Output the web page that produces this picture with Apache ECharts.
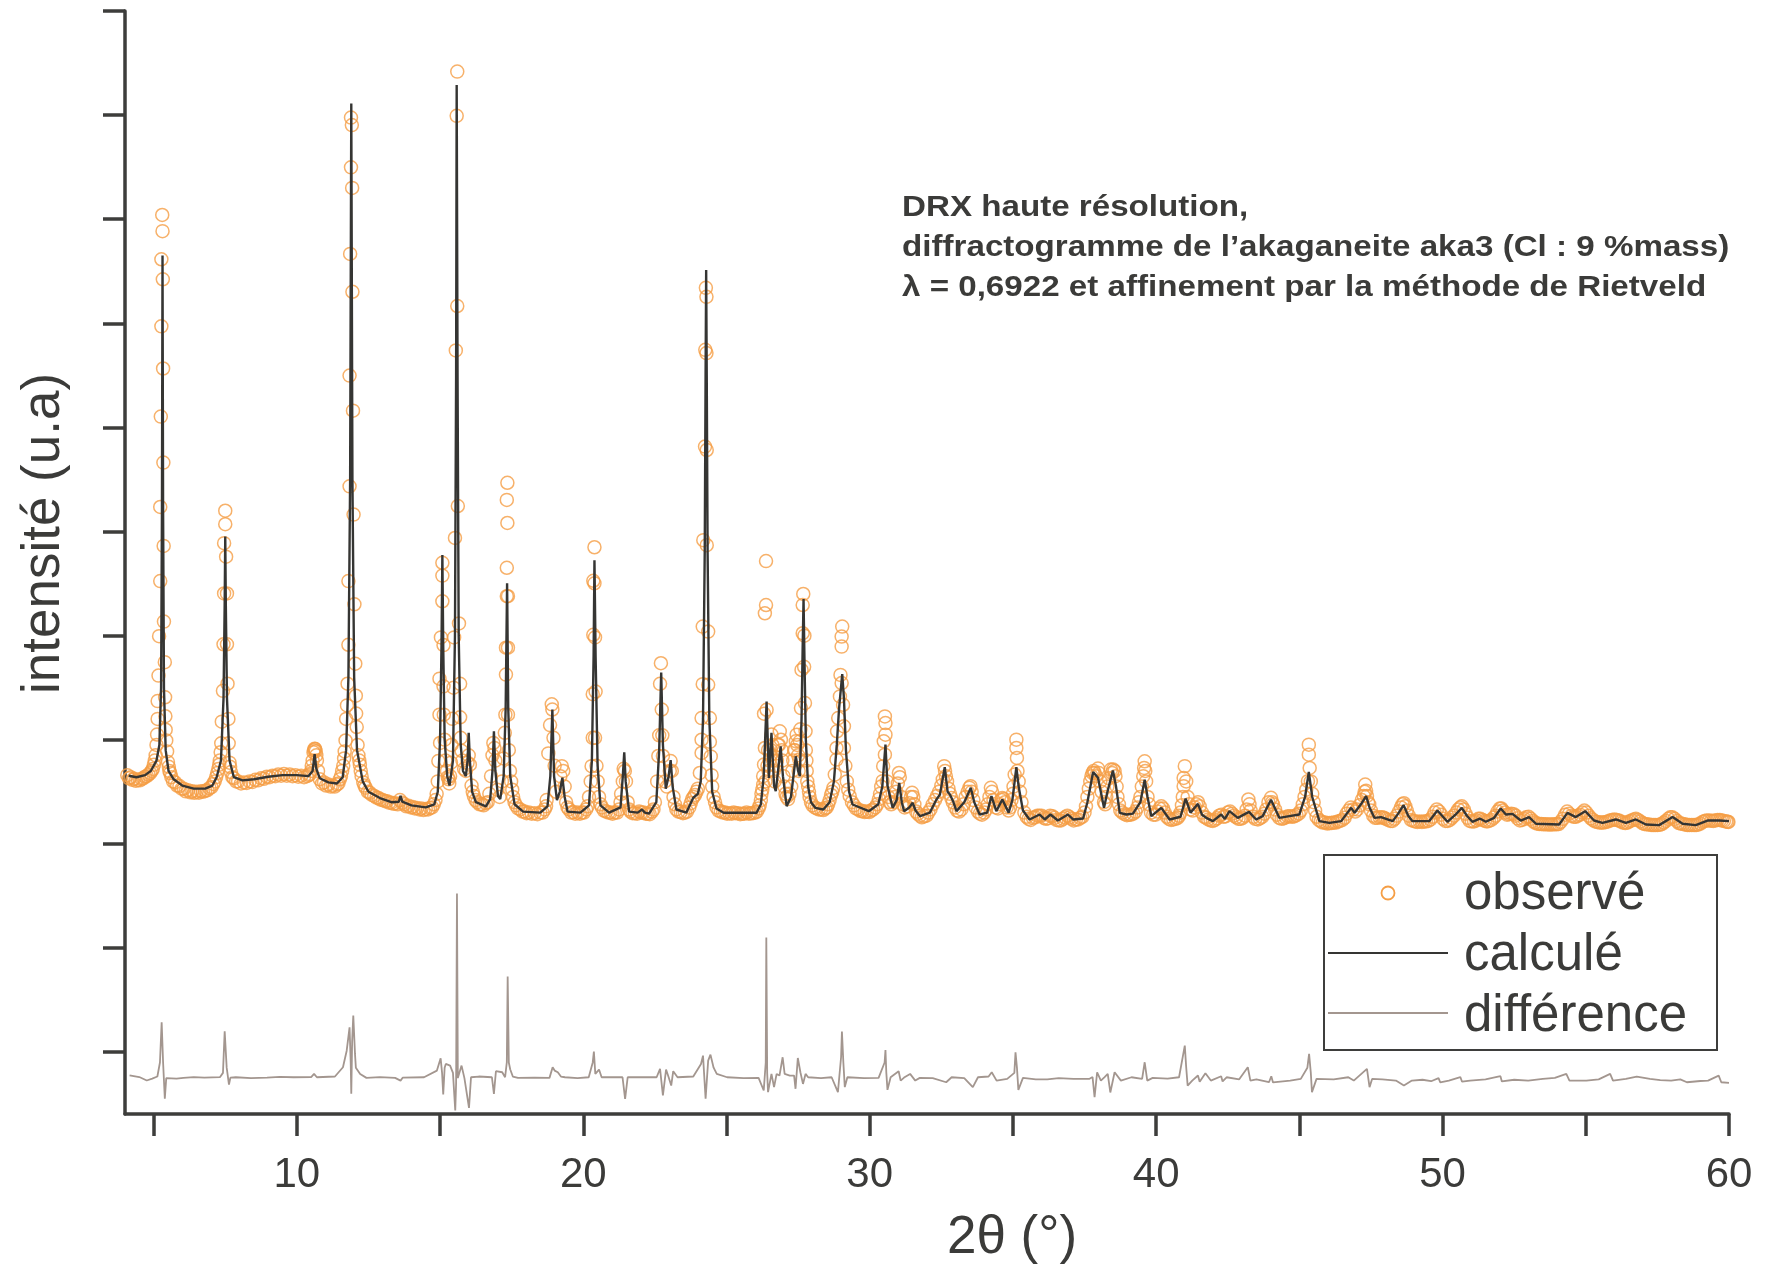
<!DOCTYPE html>
<html>
<head>
<meta charset="utf-8">
<script src="https://cdn.jsdelivr.net/npm/echarts@6/dist/echarts.min.js"></script>
<style>
html,body{margin:0;padding:0;background:#fff;}
#chart{width:1769px;height:1270px;}
</style>
</head>
<body>
<div id="chart"></div>
<script>
// ---- tick values ----
const xTickValues = [5,10,15,20,25,30,35,40,45,50,55,60];
const xLabelValues = [10,20,30,40,50,60];
const yTickValues = [0,1000,2000,3000,4000,5000,6000,7000,8000,9000,10000];

// ---- calculated profile [2theta, intensity] ----
const calcPoints = [
[4.13,2654],[4.4,2640],[4.7,2660],[4.9,2700],[5.1,2800],[5.2,2950],[5.26,3500],[5.29,5200],[5.31,7651],[5.33,5200],[5.36,3500],[5.42,2900],[5.52,2700],[5.7,2620],[6.0,2560],[6.4,2530],[6.8,2530],[7.05,2560],[7.2,2640],[7.35,2800],[7.44,3400],[7.48,4300],[7.50,4951],[7.52,4300],[7.56,3400],[7.65,2800],[7.8,2640],[8.1,2610],[8.5,2620],[9.0,2645],[9.5,2660],[10.0,2660],[10.4,2650],[10.55,2700],[10.62,2862],[10.68,2720],[10.8,2630],[11.1,2590],[11.4,2580],[11.6,2640],[11.72,2900],[11.8,3600],[11.86,5500],[11.9,9111],[11.94,5500],[12.0,3600],[12.1,2900],[12.3,2600],[12.5,2500],[12.9,2440],[13.3,2400],[13.56,2405],[13.62,2460],[13.68,2405],[14.0,2370],[14.5,2350],[14.8,2380],[14.92,2500],[15.0,3000],[15.05,3900],[15.08,4775],[15.11,3900],[15.16,3000],[15.25,2650],[15.33,2560],[15.45,2800],[15.52,4000],[15.56,6500],[15.58,9289],[15.61,6500],[15.65,4000],[15.72,2950],[15.8,2700],[15.9,2650],[15.96,2800],[16.0,3067],[16.04,2800],[16.12,2500],[16.25,2400],[16.6,2360],[16.75,2430],[16.83,2700],[16.88,3082],[16.93,2700],[17.02,2460],[17.1,2430],[17.22,2650],[17.29,3300],[17.34,4503],[17.38,3300],[17.45,2650],[17.6,2380],[17.9,2310],[18.5,2300],[18.75,2360],[18.85,2650],[18.92,3290],[18.98,2650],[19.08,2420],[19.18,2500],[19.27,2636],[19.35,2450],[19.45,2310],[19.9,2300],[20.2,2370],[20.3,2800],[20.36,3800],[20.39,4725],[20.43,3800],[20.5,2750],[20.6,2370],[20.9,2300],[21.3,2350],[21.38,2650],[21.43,2879],[21.48,2600],[21.6,2310],[21.9,2300],[22.05,2330],[22.15,2300],[22.3,2290],[22.55,2400],[22.65,2900],[22.72,3646],[22.78,2950],[22.88,2530],[22.98,2650],[23.05,2805],[23.12,2550],[23.25,2330],[23.6,2300],[23.84,2443],[24.0,2480],[24.1,2600],[24.18,3200],[24.24,4800],[24.27,6500],[24.29,7513],[24.31,6500],[24.34,4800],[24.4,3200],[24.5,2500],[24.65,2340],[24.9,2298],[26.05,2298],[26.2,2380],[26.3,2650],[26.4,3368],[26.48,2633],[26.57,3066],[26.66,2560],[26.72,2506],[26.8,2700],[26.89,2937],[26.97,2650],[27.1,2362],[27.25,2450],[27.42,2841],[27.5,2700],[27.56,2650],[27.62,3200],[27.66,3900],[27.69,4352],[27.72,3800],[27.77,3000],[27.85,2550],[27.95,2400],[28.1,2346],[28.38,2330],[28.6,2400],[28.75,2600],[28.85,2950],[28.93,3300],[29.04,3630],[29.1,3400],[29.17,2900],[29.28,2500],[29.4,2378],[29.97,2314],[30.3,2380],[30.44,2550],[30.55,2953],[30.62,2560],[30.8,2346],[30.94,2420],[31.03,2585],[31.12,2400],[31.2,2314],[31.38,2350],[31.5,2394],[31.6,2320],[31.76,2266],[32.1,2300],[32.33,2426],[32.45,2473],[32.62,2736],[32.72,2500],[32.8,2473],[32.91,2410],[33.03,2314],[33.3,2400],[33.53,2538],[33.65,2400],[33.84,2282],[34.1,2300],[34.25,2458],[34.42,2314],[34.63,2426],[34.85,2300],[34.98,2420],[35.06,2600],[35.12,2736],[35.2,2550],[35.35,2320],[35.58,2234],[35.93,2282],[36.11,2234],[36.31,2282],[36.57,2224],[36.92,2282],[37.1,2234],[37.45,2243],[37.6,2400],[37.8,2691],[37.97,2634],[38.18,2346],[38.3,2500],[38.49,2704],[38.6,2550],[38.73,2298],[38.96,2282],[39.19,2290],[39.45,2400],[39.6,2617],[39.7,2450],[39.83,2266],[40.18,2346],[40.47,2234],[40.85,2260],[41.03,2435],[41.2,2300],[41.46,2384],[41.6,2280],[41.75,2250],[41.98,2218],[42.27,2282],[42.4,2240],[42.56,2314],[42.85,2250],[43.24,2307],[43.49,2234],[43.72,2266],[44.01,2423],[44.3,2250],[44.65,2266],[45.0,2282],[45.2,2450],[45.33,2691],[45.45,2450],[45.7,2218],[46.05,2202],[46.46,2218],[46.81,2346],[46.93,2298],[47.15,2380],[47.33,2458],[47.45,2350],[47.62,2250],[47.85,2257],[48.26,2218],[48.45,2290],[48.64,2372],[48.8,2270],[48.95,2218],[49.53,2218],[49.82,2320],[50.17,2212],[50.45,2280],[50.67,2346],[50.85,2270],[51.04,2212],[51.3,2243],[51.51,2212],[51.8,2250],[52.03,2339],[52.21,2282],[52.44,2288],[52.73,2224],[53.02,2257],[53.26,2193],[54.07,2186],[54.36,2298],[54.65,2257],[54.98,2314],[55.29,2224],[55.58,2202],[56.05,2234],[56.4,2202],[56.75,2234],[57.1,2186],[57.56,2180],[58.03,2257],[58.38,2193],[58.84,2180],[59.25,2224],[59.66,2224],[60.0,2218]
];

// ---- observed points, peaks and band [2theta, intensity] ----
const obsPoints = [
[4.08,2660],[4.2,2640],[4.32,2625],[4.45,2615],[4.58,2625],[4.7,2645],[4.82,2665],[4.93,2700],[5.01,2760],[5.07,2850],[5.1,2950],[5.12,3050],[5.14,3200],[5.14,3371],[5.17,3616],[5.19,3995],[5.23,4524],[5.23,5236],[5.25,6104],[5.27,6971],[5.27,7615],[5.30,8041],[5.31,7885],[5.32,7423],[5.33,6566],[5.34,5662],[5.35,4862],[5.36,4135],[5.39,3745],[5.40,3408],[5.41,3226],[5.42,3096],[5.44,2993],[5.47,2888],[5.5,2785],[5.55,2700],[5.62,2640],[5.75,2590],[5.9,2555],[6.05,2530],[6.2,2515],[6.35,2505],[6.5,2500],[6.65,2505],[6.8,2510],[6.95,2535],[7.08,2575],[7.18,2640],[7.26,2720],[7.31,2800],[7.34,2880],[7.36,2966],[7.38,3174],[7.42,3470],[7.44,3917],[7.46,4405],[7.46,4888],[7.50,5070],[7.50,5200],[7.53,4758],[7.56,4405],[7.56,3917],[7.58,3538],[7.61,3200],[7.62,2966],[7.65,2780],[7.7,2690],[7.8,2630],[7.95,2600],[8.15,2590],[8.35,2600],[8.55,2615],[8.75,2630],[8.95,2645],[9.15,2655],[9.35,2665],[9.55,2670],[9.75,2665],[9.95,2660],[10.15,2655],[10.35,2650],[10.5,2700],[10.55,2800],[10.58,2880],[10.62,2914],[10.66,2890],[10.7,2800],[10.8,2620],[10.95,2590],[11.1,2570],[11.25,2560],[11.4,2570],[11.5,2620],[11.58,2700],[11.62,2750],[11.67,2888],[11.70,2993],[11.72,3200],[11.75,3330],[11.77,3538],[11.80,3912],[11.80,4524],[11.84,5434],[11.84,6498],[11.86,7667],[11.89,8498],[11.89,8976],[11.92,8904],[11.93,8301],[11.94,7303],[11.96,6161],[11.98,5163],[12.01,4301],[12.04,3730],[12.06,3423],[12.07,3252],[12.09,3122],[12.12,2950],[12.15,2850],[12.2,2760],[12.26,2650],[12.32,2590],[12.4,2540],[12.55,2490],[12.7,2460],[12.85,2440],[13.0,2420],[13.15,2410],[13.3,2395],[13.45,2390],[13.6,2420],[13.75,2380],[13.9,2365],[14.05,2355],[14.2,2345],[14.35,2340],[14.5,2335],[14.65,2345],[14.78,2380],[14.88,2480],[14.92,2600],[14.94,2795],[14.98,3241],[14.98,3587],[15.0,2969],[15.03,3983],[15.08,4330],[15.08,4577],[15.08,4700],[15.12,3909],[15.12,3513],[15.13,3241],[15.16,3000],[15.19,2800],[15.24,2700],[15.3,2620],[15.35,2650],[15.38,2780],[15.40,2950],[15.43,3201],[15.47,3500],[15.49,3983],[15.52,4938],[15.55,6740],[15.58,8993],[15.60,9418],[15.60,7166],[15.62,5245],[15.66,4117],[15.70,3537],[15.70,3216],[15.72,3018],[15.75,2894],[15.78,2800],[15.84,2720],[15.9,2700],[15.96,2780],[16.0,2850],[16.04,2760],[16.1,2560],[16.18,2460],[16.3,2400],[16.45,2380],[16.6,2390],[16.72,2480],[16.78,2650],[16.83,2850],[16.86,2969],[16.9,2920],[16.93,2800],[17.0,2520],[17.08,2450],[17.16,2600],[17.21,2820],[17.26,3067],[17.28,3241],[17.30,3626],[17.30,3884],[17.33,4379],[17.33,4652],[17.35,5082],[17.33,5304],[17.35,5468],[17.37,4379],[17.37,3884],[17.37,3241],[17.4,2900],[17.44,2700],[17.48,2600],[17.55,2450],[17.65,2370],[17.8,2330],[17.95,2310],[18.1,2300],[18.3,2295],[18.5,2300],[18.65,2330],[18.72,2420],[18.78,2869],[18.84,3141],[18.90,3340],[18.92,3290],[18.96,3018],[19.0,2750],[19.05,2500],[19.2,2650],[19.25,2746],[19.3,2700],[19.35,2550],[19.4,2400],[19.5,2330],[19.65,2305],[19.8,2300],[19.95,2300],[20.1,2330],[20.2,2450],[20.26,2600],[20.29,2746],[20.33,3018],[20.33,3438],[20.35,4008],[20.35,4527],[20.39,4849],[20.39,4503],[20.41,3983],[20.43,3463],[20.41,3018],[20.46,2750],[20.5,2600],[20.55,2450],[20.65,2350],[20.8,2310],[20.95,2300],[21.1,2300],[21.25,2330],[21.32,2480],[21.38,2600],[21.41,2721],[21.45,2700],[21.49,2600],[21.55,2400],[21.65,2310],[21.8,2295],[21.95,2310],[22.1,2300],[22.25,2290],[22.4,2310],[22.5,2400],[22.58,2600],[22.62,2844],[22.65,3043],[22.68,3537],[22.71,3735],[22.74,3290],[22.76,3043],[22.78,2844],[22.85,2600],[22.92,2550],[23.02,2700],[23.05,2795],[23.09,2700],[23.15,2450],[23.25,2330],[23.4,2305],[23.55,2300],[23.7,2350],[23.8,2430],[23.9,2470],[24.0,2530],[24.07,2681],[24.13,2873],[24.13,3000],[24.13,3208],[24.17,3534],[24.17,4087],[24.19,4917],[24.25,5816],[24.26,6745],[24.28,7341],[24.30,7254],[24.30,6714],[24.31,5783],[24.31,4869],[24.36,4039],[24.36,3528],[24.42,3208],[24.42,2980],[24.45,2840],[24.48,2660],[24.55,2450],[24.65,2350],[24.8,2310],[24.95,2300],[25.1,2295],[25.25,2300],[25.4,2295],[25.55,2290],[25.7,2300],[25.85,2295],[26.0,2300],[26.12,2340],[26.2,2420],[26.25,2520],[26.28,2569],[26.31,2761],[26.34,2921],[26.31,3250],[26.40,3288],[26.34,4215],[26.38,4294],[26.38,4716],[26.45,2900],[26.5,2800],[26.53,2850],[26.57,3050],[26.6,2950],[26.65,2700],[26.72,2750],[26.8,2950],[26.86,3081],[26.9,3000],[26.95,2800],[27.02,2550],[27.1,2450],[27.2,2480],[27.3,2700],[27.36,2900],[27.42,2985],[27.45,3049],[27.5,2850],[27.54,2809],[27.56,2985],[27.60,3304],[27.62,3671],[27.66,4023],[27.66,4294],[27.68,4400],[27.74,3352],[27.76,3081],[27.77,2900],[27.8,2700],[27.85,2550],[27.9,2450],[28.0,2370],[28.15,2340],[28.3,2330],[28.45,2340],[28.55,2380],[28.65,2470],[28.73,2538],[28.78,2665],[28.84,2809],[28.84,2921],[28.86,3081],[28.90,3208],[28.96,3416],[28.98,3623],[29.02,3544],[29.02,3895],[29.02,3991],[29.04,4087],[29.07,3336],[29.10,3129],[29.10,2921],[29.15,2750],[29.2,2600],[29.3,2460],[29.45,2370],[29.6,2330],[29.75,2315],[29.9,2310],[30.05,2320],[30.2,2350],[30.32,2430],[30.4,2550],[30.45,2602],[30.47,2746],[30.53,2857],[30.49,2985],[30.55,3049],[30.55,3160],[30.53,3224],[30.6,2600],[30.65,2450],[30.75,2380],[30.88,2450],[30.98,2580],[31.02,2681],[31.05,2640],[31.15,2380],[31.3,2360],[31.48,2490],[31.52,2450],[31.62,2310],[31.75,2270],[31.9,2265],[32.05,2300],[32.2,2380],[32.35,2460],[32.55,2620],[32.6,2746],[32.63,2700],[32.7,2600],[32.8,2480],[32.9,2400],[33.05,2320],[33.2,2330],[33.35,2450],[33.52,2554],[33.56,2500],[33.7,2350],[33.85,2290],[34.0,2300],[34.12,2380],[34.23,2538],[34.27,2500],[34.4,2350],[34.55,2380],[34.63,2440],[34.72,2400],[34.85,2320],[34.95,2420],[35.02,2550],[35.06,2665],[35.14,2825],[35.12,2921],[35.12,3001],[35.16,2700],[35.25,2500],[35.4,2300],[35.55,2240],[35.7,2250],[35.85,2270],[36.0,2270],[36.15,2240],[36.3,2270],[36.45,2250],[36.6,2225],[36.75,2240],[36.9,2270],[37.05,2240],[37.2,2235],[37.35,2250],[37.5,2300],[37.6,2450],[37.7,2600],[37.78,2681],[37.85,2681],[37.97,2723],[38.05,2600],[38.18,2400],[38.3,2550],[38.42,2713],[38.5,2713],[38.58,2650],[38.65,2450],[38.75,2320],[38.9,2285],[39.05,2280],[39.2,2290],[39.35,2350],[39.45,2450],[39.55,2650],[39.58,2729],[39.6,2793],[39.65,2600],[39.75,2380],[39.9,2280],[40.05,2310],[40.18,2360],[40.3,2300],[40.45,2240],[40.6,2235],[40.75,2250],[40.85,2300],[40.93,2450],[40.96,2554],[40.96,2633],[41.0,2746],[41.05,2600],[41.1,2450],[41.2,2330],[41.35,2350],[41.46,2400],[41.6,2300],[41.75,2250],[41.9,2225],[42.05,2230],[42.2,2270],[42.35,2260],[42.5,2300],[42.65,2290],[42.8,2255],[42.95,2240],[43.1,2270],[43.22,2426],[43.26,2380],[43.4,2260],[43.55,2235],[43.7,2260],[43.85,2330],[44.01,2442],[44.05,2400],[44.15,2330],[44.3,2250],[44.45,2245],[44.6,2265],[44.75,2260],[44.9,2275],[45.05,2320],[45.18,2450],[45.3,2602],[45.36,2729],[45.33,2857],[45.33,2953],[45.4,2600],[45.5,2400],[45.6,2260],[45.75,2215],[45.9,2205],[46.05,2200],[46.2,2205],[46.35,2215],[46.5,2230],[46.65,2290],[46.8,2350],[46.95,2310],[47.1,2370],[47.25,2460],[47.3,2569],[47.33,2510],[47.36,2460],[47.5,2320],[47.65,2250],[47.8,2255],[47.95,2250],[48.1,2230],[48.25,2220],[48.4,2270],[48.55,2350],[48.65,2390],[48.75,2320],[48.9,2230],[49.05,2215],[49.2,2215],[49.35,2215],[49.5,2220],[49.65,2260],[49.8,2330],[49.95,2280],[50.1,2220],[50.25,2230],[50.4,2270],[50.55,2330],[50.67,2360],[50.8,2290],[50.95,2220],[51.1,2215],[51.25,2240],[51.4,2230],[51.55,2215],[51.7,2230],[51.85,2270],[52.0,2340],[52.1,2320],[52.25,2280],[52.4,2290],[52.55,2270],[52.7,2225],[52.85,2240],[53.0,2260],[53.15,2220],[53.3,2195],[53.45,2190],[53.6,2188],[53.75,2186],[53.9,2188],[54.05,2190],[54.2,2240],[54.35,2310],[54.5,2270],[54.65,2260],[54.8,2280],[54.95,2320],[55.1,2270],[55.25,2230],[55.4,2210],[55.55,2205],[55.7,2210],[55.85,2225],[56.0,2235],[56.15,2225],[56.3,2205],[56.45,2205],[56.6,2225],[56.75,2240],[56.9,2215],[57.05,2190],[57.2,2185],[57.35,2180],[57.5,2180],[57.65,2190],[57.8,2220],[57.95,2255],[58.1,2240],[58.25,2200],[58.4,2190],[58.55,2180],[58.7,2180],[58.85,2180],[59.0,2195],[59.15,2220],[59.3,2225],[59.45,2220],[59.6,2230],[59.75,2225],[59.9,2215],[59.98,2210]
];

// ---- further observed points read along the dense band [2theta, intensity] ----
const obsBandPoints = [
[4.14,2630],[4.26,2615],[4.38,2605],[4.52,2610],[4.64,2630],[4.76,2650],[4.88,2680],[4.97,2720],[5.04,2800],[5.53,2740],[5.58,2680],
[5.68,2600],[5.82,2560],[5.98,2530],[6.12,2505],[6.28,2495],[6.42,2490],[6.58,2492],[6.72,2500],[6.88,2515],[7.02,2545],[7.13,2600],[7.22,2680],[7.29,2760],[7.67,2740],
[7.75,2640],[7.88,2600],[8.05,2580],[8.25,2585],[8.45,2595],[8.65,2610],[8.85,2625],[9.05,2640],[9.25,2650],[9.45,2655],[9.65,2655],[9.85,2650],[10.05,2645],[10.25,2640],[10.42,2660],
[10.45,2670],[10.52,2750],[10.6,2900],[10.64,2910],[10.68,2850],[10.74,2700],
[10.88,2580],[11.02,2560],[11.18,2550],[11.32,2550],[11.45,2580],[11.54,2650],[11.65,2820],[12.18,2800],[12.23,2700],
[12.36,2560],[12.48,2500],[12.62,2470],[12.78,2445],[12.92,2425],[13.08,2410],[13.22,2395],[13.38,2385],[13.52,2380],[13.68,2395],[13.82,2360],[13.98,2350],[14.12,2340],[14.28,2330],[14.42,2325],[14.58,2330],[14.72,2350],[14.84,2420],
[15.27,2640],[15.32,2580],
[16.14,2500],[16.24,2420],[16.38,2380],[16.52,2370],[16.66,2400],
[17.52,2520],[17.6,2400],[17.72,2340],[17.88,2310],[18.02,2295],[18.2,2290],[18.4,2285],[18.58,2300],[18.7,2360],
[19.45,2350],[19.58,2300],[19.72,2290],[19.88,2290],[20.02,2300],[20.15,2360],
[20.6,2380],[20.72,2320],[20.88,2300],[21.02,2290],[21.18,2300],[21.3,2400],
[21.6,2330],[21.72,2295],[21.88,2290],[22.02,2300],[22.18,2290],[22.32,2285],[22.45,2330],
[23.2,2380],[23.32,2310],[23.48,2295],[23.62,2310],[23.75,2390],[23.85,2450],[23.95,2500],
[24.5,2550],[24.6,2400],[24.72,2320],[24.88,2300],[25.02,2290],[25.18,2290],[25.32,2295],[25.48,2285],[25.62,2290],[25.78,2290],[25.92,2295],[26.06,2310],[26.16,2370],
[26.22,2480],[26.28,2650],[26.36,2600],[26.43,2750],[26.47,2700],[26.55,2900],[26.62,2800],[26.68,2600],[26.76,2800],[26.83,2950],[26.93,2900],[26.99,2650],[27.06,2480],[27.15,2430],[27.26,2550],[27.33,2800],[27.39,2900],[27.47,2950],[27.52,2700],[27.58,3100],[27.71,3700],[27.72,4000],[27.79,2800],[27.82,2600],[27.88,2500],[27.95,2400],
[28.08,2350],[28.22,2330],[28.38,2325],[28.5,2350],[28.6,2420],[28.69,2500],
[29.25,2520],[29.38,2400],[29.52,2340],[29.68,2315],[29.82,2305],[29.98,2305],[30.12,2330],[30.26,2380],[30.36,2480],
[30.7,2400],[30.82,2400],[30.93,2500],[31.1,2450],[31.22,2350],[31.38,2390],[31.44,2450],[31.56,2380],[31.68,2290],[31.82,2255],[31.98,2270],[32.12,2330],[32.28,2420],[32.42,2500],[32.5,2560],[32.66,2650],[32.75,2530],[32.85,2440],[32.98,2350],[33.12,2310],[33.28,2380],[33.42,2500],[33.48,2540],[33.62,2420],[33.78,2310],[33.92,2280],
[34.06,2330],[34.18,2450],[34.32,2420],[34.48,2340],[34.6,2420],[34.68,2430],[34.78,2350],[34.9,2350],[35.0,2480],[35.2,2600],[35.3,2400],
[35.48,2260],[35.62,2230],[35.78,2255],[35.92,2270],[36.08,2250],[36.22,2245],[36.38,2265],[36.52,2230],[36.68,2225],[36.82,2255],[36.98,2255],[37.12,2225],[37.28,2235],[37.42,2260],[37.55,2360],[37.65,2530],
[37.74,2650],[37.82,2700],[37.9,2650],[38.0,2680],[38.1,2500],[38.22,2380],[38.26,2450],[38.35,2630],[38.46,2680],[38.55,2700],[38.62,2550],[38.7,2380],
[38.82,2300],[38.98,2275],[39.12,2280],[39.28,2310],[39.4,2400],[39.5,2550],[39.62,2700],[39.7,2450],[39.82,2300],[39.98,2280],[40.12,2340],[40.24,2340],[40.38,2260],[40.52,2230],[40.68,2240],[40.8,2270],[40.9,2370],
[41.15,2380],[41.28,2320],[41.4,2380],[41.52,2360],[41.68,2260],[41.82,2235],[41.98,2220],[42.12,2245],[42.28,2280],[42.42,2265],[42.58,2310],[42.72,2270],[42.88,2240],[43.02,2250],[43.16,2330],[43.3,2320],[43.46,2240],[43.62,2245],[43.78,2290],[43.92,2400],[44.08,2380],[44.22,2280],[44.38,2240],[44.52,2255],[44.68,2265],[44.82,2265],[44.98,2290],[45.12,2380],[45.24,2520],
[45.45,2480],[45.55,2320],[45.68,2230],[45.82,2205],[45.98,2195],[46.12,2200],[46.28,2205],[46.42,2220],[46.58,2250],[46.72,2320],[46.88,2330],[47.02,2330],[47.18,2420],[47.28,2500],[47.4,2400],
[47.44,2380],[47.58,2270],[47.72,2250],[47.88,2255],[48.02,2240],[48.18,2220],[48.32,2240],[48.48,2310],[48.6,2380],[48.7,2360],[48.82,2270],[48.98,2220],[49.12,2210],[49.28,2210],[49.42,2215],[49.58,2235],[49.72,2300],[49.88,2310],[50.02,2240],[50.18,2220],[50.32,2250],[50.48,2300],[50.62,2350],[50.74,2330],[50.88,2250],[51.02,2215],[51.18,2225],[51.32,2240],[51.48,2220],[51.62,2220],[51.78,2250],[51.92,2310],[52.05,2340],[52.18,2300],[52.32,2285],[52.48,2285],[52.62,2245],[52.78,2230],[52.92,2255],[53.08,2240],[53.22,2205],[53.38,2190],[53.52,2188],[53.68,2186],[53.82,2186],[53.98,2188],[54.12,2210],[54.28,2280],[54.42,2290],[54.58,2260],[54.72,2270],[54.88,2300],[55.02,2300],[55.18,2245],[55.32,2215],[55.48,2205],[55.62,2205],[55.78,2215],[55.92,2230],[56.08,2230],[56.22,2215],[56.38,2200],[56.52,2215],[56.68,2235],[56.82,2230],[56.98,2200],[57.12,2188],[57.28,2182],[57.42,2180],[57.58,2183],[57.72,2205],[57.88,2240],[58.02,2255],[58.18,2220],[58.32,2195],[58.48,2185],[58.62,2180],[58.78,2180],[58.92,2185],[59.08,2210],[59.22,2225],[59.38,2222],[59.52,2225],[59.68,2228],[59.82,2220],[59.95,2212]
];

// ---- difference curve [2theta, offset value] ----
const diffPoints = [
[4.16,-225],[4.5,-240],[4.76,-273],[4.95,-255],[5.13,-235],[5.22,-100],[5.28,286],[5.33,-100],[5.39,-449],[5.44,-250],[5.49,-235],[5.8,-255],[6.04,-248],[6.4,-240],[6.77,-245],[7.32,-240],[7.42,-200],[7.48,199],[7.55,-150],[7.63,-312],[7.68,-245],[7.87,-242],[8.4,-250],[8.96,-245],[9.4,-238],[9.88,-242],[10.5,-240],[10.6,-210],[10.7,-242],[11.33,-235],[11.61,-146],[11.74,13],[11.84,238],[11.88,-100],[11.90,-401],[11.93,100],[11.97,350],[12.03,-18],[12.06,-150],[12.21,-210],[12.43,-248],[12.9,-240],[13.43,-248],[13.62,-274],[13.7,-245],[14.44,-242],[14.89,-178],[15.02,-60],[15.07,-200],[15.11,-407],[15.16,-150],[15.20,-114],[15.35,-130],[15.45,-200],[15.53,-561],[15.56,-300],[15.59,1522],[15.62,-250],[15.68,-242],[15.75,-130],[15.85,-250],[16.01,-536],[16.08,-242],[16.35,-235],[16.81,-242],[16.88,-401],[16.95,-184],[17.17,-194],[17.27,-242],[17.33,-100],[17.36,726],[17.40,-100],[17.45,-168],[17.54,-235],[17.72,-248],[18.3,-245],[18.82,-248],[18.93,-146],[19.0,-178],[19.11,-194],[19.22,-235],[19.36,-242],[19.8,-250],[20.19,-242],[20.33,-100],[20.37,4],[20.42,-210],[20.55,-168],[20.64,-242],[21.37,-242],[21.46,-449],[21.55,-242],[22.56,-242],[22.68,-162],[22.78,-417],[22.89,-168],[22.98,-242],[23.07,-322],[23.14,-184],[23.29,-242],[23.84,-235],[24.11,-114],[24.18,-34],[24.27,-449],[24.36,-82],[24.44,-25],[24.55,-150],[24.66,-210],[25.02,-242],[25.6,-250],[26.12,-248],[26.30,-369],[26.37,-100],[26.39,1100],[26.42,-200],[26.45,-385],[26.57,-210],[26.66,-337],[26.75,-210],[26.85,-226],[26.96,-50],[27.03,-210],[27.21,-226],[27.36,-226],[27.41,-353],[27.49,-57],[27.58,-194],[27.67,-306],[27.76,-210],[27.85,-242],[28.3,-250],[28.67,-242],[28.89,-385],[29.0,-50],[29.03,196],[29.08,-100],[29.13,-337],[29.22,-242],[29.8,-250],[30.31,-248],[30.52,-100],[30.55,20],[30.58,-200],[30.62,-363],[30.73,-242],[31.01,-184],[31.08,-274],[31.2,-245],[31.41,-210],[31.59,-274],[31.75,-248],[32.2,-250],[32.67,-290],[32.86,-242],[33.3,-250],[33.6,-337],[33.78,-242],[34.15,-235],[34.26,-194],[34.43,-274],[34.8,-258],[35.05,-200],[35.09,-2],[35.14,-150],[35.19,-363],[35.35,-248],[35.8,-262],[36.2,-262],[36.6,-250],[37.11,-258],[37.66,-258],[37.78,-240],[37.85,-433],[37.94,-194],[38.07,-274],[38.2,-240],[38.31,-210],[38.40,-388],[38.55,-194],[38.77,-274],[39.14,-242],[39.51,-258],[39.60,-98],[39.69,-274],[39.88,-248],[40.4,-255],[40.80,-242],[41.00,62],[41.05,-150],[41.10,-322],[41.26,-274],[41.46,-225],[41.52,-285],[41.72,-203],[41.91,-274],[42.27,-232],[42.32,-282],[42.46,-242],[42.9,-262],[43.20,-146],[43.29,-274],[43.5,-262],[43.94,-290],[44.02,-232],[44.08,-292],[44.68,-274],[45.05,-258],[45.28,-150],[45.34,-18],[45.40,-200],[45.44,-385],[45.60,-258],[46.2,-262],[46.71,-242],[46.90,-274],[47.36,-162],[47.45,-337],[47.54,-258],[47.9,-262],[48.37,-274],[48.65,-322],[48.93,-274],[49.3,-266],[49.6,-280],[49.86,-250],[49.92,-292],[50.22,-274],[50.62,-240],[50.68,-285],[50.96,-274],[51.5,-262],[52.02,-232],[52.07,-282],[52.5,-266],[52.99,-274],[53.5,-258],[53.92,-248],[54.32,-210],[54.43,-274],[55.02,-274],[55.45,-262],[55.85,-210],[55.95,-274],[56.4,-258],[56.78,-235],[57.24,-258],[57.6,-270],[57.98,-274],[58.3,-262],[58.53,-290],[59.0,-278],[59.27,-274],[59.64,-226],[59.73,-290],[60.0,-297]
];

const seriesNames = ['observé', 'calculé', 'différence'];
const annotationLines = [
  'DRX haute résolution,',
  'diffractogramme de l\u2019akaganeite aka3 (Cl : 9 %mass)',
  '\u03bb = 0,6922 et affinement par la méthode de Rietveld'
];

const ORANGE = '#F59E45';
const CALC = '#353533';
const DIFF = '#A3968F';
const INK = '#3b3b39';
const FONT = '"Liberation Sans", Arial, Helvetica, sans-serif';

const chart = echarts.init(document.getElementById('chart'), null, {renderer: 'canvas'});

const graphics = [];
annotationLines.forEach((t, i) => {
  graphics.push({
    type: 'text', x: 902, y: 208 + i * 40, scaleX: 1.105, z: 100,
    style: { text: t, font: 'bold 30px ' + FONT, fill: INK, textAlign: 'left', textVerticalAlign: 'middle' }
  });
});
// legend box
graphics.push({ type: 'rect', z: 100, shape: {x: 1324, y: 855, width: 393, height: 195},
  style: {fill: 'none', stroke: '#3e3e3c', lineWidth: 2} });
graphics.push({ type: 'circle', z: 101, shape: {cx: 1388, cy: 893, r: 6.5},
  style: {fill: 'none', stroke: ORANGE, lineWidth: 1.8} });
graphics.push({ type: 'line', z: 101, shape: {x1: 1328, y1: 953, x2: 1448, y2: 953},
  style: {stroke: CALC, lineWidth: 2} });
graphics.push({ type: 'line', z: 101, shape: {x1: 1328, y1: 1013, x2: 1448, y2: 1013},
  style: {stroke: DIFF, lineWidth: 2} });
[895, 956, 1017].forEach((yy, i) => {
  graphics.push({ type: 'text', x: 1464, y: yy, z: 101,
    style: { text: seriesNames[i], font: '51px ' + FONT, fill: INK, textAlign: 'left', textVerticalAlign: 'middle' } });
});

const option = {
  animation: false,
  backgroundColor: '#ffffff',
  grid: { left: 125, right: 40, top: 11, bottom: 153, containLabel: false },
  xAxis: {
    type: 'value', min: 4, max: 60,
    name: '2\u03b8 (°)', nameLocation: 'middle', nameGap: 98,
    nameTextStyle: { fontSize: 53, color: INK, fontFamily: FONT, padding: [0, 0, 0, 170] },
    axisLine: { show: true, onZero: false, lineStyle: { color: '#3d3d3b', width: 3.5 } },
    axisTick: { show: true, inside: false, length: 22, customValues: xTickValues, lineStyle: { color: '#3d3d3b', width: 3.5 } },
    axisLabel: { show: true, customValues: xLabelValues, fontSize: 42, color: INK, fontFamily: FONT, margin: 40 },
    splitLine: { show: false }
  },
  yAxis: {
    type: 'value', min: -595, max: 10000,
    name: 'intensité (u.a)', nameLocation: 'middle', nameGap: 54, nameRotate: 90,
    nameTextStyle: { fontSize: 53, color: INK, fontFamily: FONT, padding: [0, 0, 0, 58] },
    axisLine: { show: true, onZero: false, lineStyle: { color: '#3d3d3b', width: 3.5 } },
    axisTick: { show: true, inside: false, length: 22, customValues: yTickValues, lineStyle: { color: '#3d3d3b', width: 3.5 } },
    axisLabel: { show: false },
    splitLine: { show: false }
  },
  series: [
    {
      name: seriesNames[0], type: 'scatter', data: obsPoints.concat(obsBandPoints), symbol: 'circle', symbolSize: 13, z: 2,
      itemStyle: { color: 'rgba(0,0,0,0)', borderColor: ORANGE, borderWidth: 1.5 },
      emphasis: { disabled: true }
    },
    {
      name: seriesNames[2], type: 'line', data: diffPoints, showSymbol: false, z: 3,
      lineStyle: { color: DIFF, width: 1.8 }, emphasis: { disabled: true }
    },
    {
      name: seriesNames[1], type: 'line', data: calcPoints, showSymbol: false, z: 4,
      lineStyle: { color: CALC, width: 2.4 }, emphasis: { disabled: true }
    }
  ],
  graphic: graphics
};
chart.setOption(option);
</script>
</body>
</html>
